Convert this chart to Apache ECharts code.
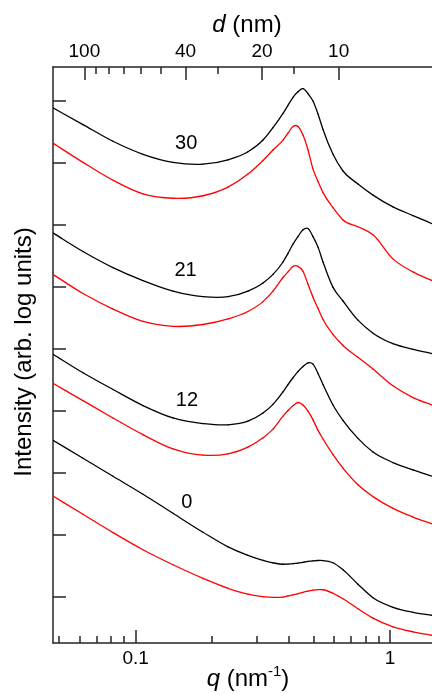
<!DOCTYPE html>
<html><head><meta charset="utf-8">
<script src="https://cdn.jsdelivr.net/npm/echarts@6/dist/echarts.min.js"></script>
<style>html,body{margin:0;padding:0;background:#fff}#c{width:432px;height:694px}</style>
</head><body><div id="c"></div>
<script>
// scattering vector q (nm^-1)
const q = [0.04729, 0.06205, 0.08142, 0.10684, 0.14019, 0.18395, 0.2307, 0.2764, 0.31671, 0.34673,
           0.37959, 0.3971, 0.41557, 0.4346, 0.45496, 0.4760, 0.49808, 0.5212, 0.54529, 0.59697,
           0.65355, 0.7483, 0.85754, 1.02754, 1.23156, 1.4627];
// log intensity (arb. log units); black and red curve of each sample
const I30black = [8.89, 8.62, 8.35, 8.14, 8.01, 7.98, 8.05, 8.18, 8.37, 8.57, 8.80, 8.93, 9.06, 9.15, 9.20, 9.12, 9.00, 8.79, 8.54, 8.14, 7.87, 7.66, 7.48, 7.29, 7.15, 7.02];
const I30red   = [8.32, 8.01, 7.72, 7.50, 7.43, 7.47, 7.61, 7.82, 8.04, 8.21, 8.37, 8.48, 8.59, 8.59, 8.45, 8.21, 7.90, 7.70, 7.52, 7.28, 7.08, 6.97, 6.84, 6.45, 6.24, 6.10];
const I21black = [6.87, 6.57, 6.31, 6.10, 5.93, 5.84, 5.84, 5.93, 6.06, 6.20, 6.40, 6.54, 6.69, 6.81, 6.92, 6.94, 6.81, 6.64, 6.40, 5.99, 5.77, 5.46, 5.25, 5.08, 4.99, 4.92];
const I21red   = [6.20, 5.89, 5.64, 5.44, 5.36, 5.39, 5.48, 5.60, 5.76, 5.93, 6.15, 6.24, 6.33, 6.33, 6.25, 6.04, 5.83, 5.65, 5.47, 5.23, 5.05, 4.86, 4.67, 4.40, 4.21, 4.09];
const I12black = [4.91, 4.61, 4.34, 4.08, 3.88, 3.79, 3.77, 3.83, 3.96, 4.10, 4.30, 4.42, 4.53, 4.63, 4.71, 4.77, 4.75, 4.60, 4.42, 4.09, 3.84, 3.55, 3.33, 3.16, 3.04, 2.94];
const I12red   = [4.44, 4.16, 3.88, 3.61, 3.38, 3.28, 3.30, 3.41, 3.56, 3.70, 3.91, 4.00, 4.08, 4.13, 4.09, 3.99, 3.85, 3.68, 3.54, 3.29, 3.07, 2.80, 2.61, 2.42, 2.28, 2.17];
const I0black  = [3.520, 3.229, 2.938, 2.647, 2.340, 2.034, 1.799, 1.662, 1.581, 1.541, 1.517, 1.520, 1.526, 1.536, 1.549, 1.562, 1.572, 1.578, 1.577, 1.541, 1.428, 1.194, 0.976, 0.822, 0.741, 0.693];
const I0red    = [2.620, 2.324, 2.029, 1.751, 1.509, 1.290, 1.129, 1.035, 0.995, 0.982, 0.987, 1.005, 1.022, 1.043, 1.064, 1.084, 1.098, 1.106, 1.105, 1.048, 0.959, 0.798, 0.647, 0.507, 0.426, 0.370];
// curve labels and where they sit (q, log intensity)
const curveLabels = ['30', '21', '12', '0'];
const labelQ = [0.158, 0.157, 0.159, 0.159];
const labelV = [8.32, 6.27, 4.17, 2.52];
// ticks
const qMajorTicks = [0.1, 1];
const qMinorTicks = [0.05, 0.06, 0.07, 0.08, 0.09, 0.2, 0.3, 0.4, 0.5, 0.6, 0.7, 0.8, 0.9];
const dMajorTicks = [100, 40, 20, 10];
const dMinorTicks = [90, 80, 70, 60, 50, 30, 15];
const yTicks = [1, 2, 3, 4, 5, 6, 7, 8, 9];
const qMin = 0.0473, qMax = 1.463;
const yMin = 0.245, yMax = 9.55;

const FONT = "'Liberation Sans', Arial, sans-serif";
const AX = '#262626';
const lg = Math.log10;
const lgMin = lg(qMin), lgMax = lg(qMax);
const dToLq = d => lg(2 * Math.PI / d);

function decoAxis(pos, vals, len, labels, fmt) {
  return {
    type: 'value', position: pos, min: lgMin, max: lgMax, gridIndex: 0,
    axisLine: { show: !!labels, onZero: false, lineStyle: { color: AX, width: 1.5 } },
    axisTick: { show: true, inside: true, length: len, customValues: vals, lineStyle: { color: AX, width: 1.5 } },
    axisLabel: labels ? { show: true, customValues: vals, formatter: fmt, fontFamily: FONT, fontSize: 19, color: '#000', margin: 6 } : { show: false },
    splitLine: { show: false }
  };
}

const chart = echarts.init(document.getElementById('c'), null, { renderer: 'canvas' });
const pairs = arr => q.map((x, i) => [x, arr[i]]);

// smooth curve: cubic Hermite segments between data points, positioned via the axes (api.coord)
function curve(arr, color) {
  const n = q.length;
  return {
    type: 'custom', data: pairs(arr), xAxisIndex: 0, yAxisIndex: 0, clip: true, silent: true, z: 3,
    encode: { x: 0, y: 1 },
    renderItem: function (params, api) {
      const i = params.dataIndex;
      if (i >= n - 1) return null;
      const P = j => api.coord([q[j], arr[j]]);
      const slope = j => {
        if (j === 0) { const a = P(0), b = P(1); return (b[1] - a[1]) / (b[0] - a[0]); }
        if (j === n - 1) { const a = P(n - 2), b = P(n - 1); return (b[1] - a[1]) / (b[0] - a[0]); }
        const a = P(j - 1), b = P(j), c = P(j + 1);
        const h0 = b[0] - a[0], h1 = c[0] - b[0];
        const s0 = (b[1] - a[1]) / h0, s1 = (c[1] - b[1]) / h1;
        return (s0 * h1 + s1 * h0) / (h0 + h1);
      };
      const p0 = P(i), p1 = P(i + 1);
      const dx = (p1[0] - p0[0]) / 3;
      const m0 = slope(i), m1 = slope(i + 1);
      return {
        type: 'bezierCurve',
        shape: { x1: p0[0], y1: p0[1], cpx1: p0[0] + dx, cpy1: p0[1] + m0 * dx,
                 cpx2: p1[0] - dx, cpy2: p1[1] - m1 * dx, x2: p1[0], y2: p1[1] },
        style: { stroke: color, lineWidth: 1.3, fill: null, lineCap: 'round' }
      };
    }
  };
}

chart.setOption({
  animation: false,
  backgroundColor: '#fff',
  grid: { left: 53, right: 0, top: 67, bottom: 51, containLabel: false },
  xAxis: [
    { type: 'log', min: qMin, max: qMax, position: 'bottom', show: true,
      axisLine: { show: false }, axisTick: { show: false }, axisLabel: { show: false }, splitLine: { show: false } },
    decoAxis('bottom', qMajorTicks.map(lg), 13, true, v => String(+Math.pow(10, v).toPrecision(3))),
    decoAxis('bottom', qMinorTicks.map(lg), 7, false),
    decoAxis('top', dMajorTicks.map(dToLq), 13, true, v => String(Math.round(2 * Math.PI / Math.pow(10, v)))),
    decoAxis('top', dMinorTicks.map(dToLq), 7, false)
  ],
  yAxis: [{
    type: 'value', min: yMin, max: yMax, position: 'left',
    axisLine: { show: true, onZero: false, lineStyle: { color: AX, width: 1.5 } },
    axisTick: { show: true, inside: true, length: 13, customValues: yTicks, lineStyle: { color: AX, width: 1.5 } },
    axisLabel: { show: false }, splitLine: { show: false }
  }],
  series: [
    curve(I30black, '#000'), curve(I30red, '#ff0000'),
    curve(I21black, '#000'), curve(I21red, '#ff0000'),
    curve(I12black, '#000'), curve(I12red, '#ff0000'),
    curve(I0black, '#000'), curve(I0red, '#ff0000'),
    {
      type: 'scatter', xAxisIndex: 0, yAxisIndex: 0, silent: true, z: 4,
      symbol: 'circle', symbolSize: 1, itemStyle: { color: 'rgba(0,0,0,0)', opacity: 1 },
      label: { show: true, position: 'inside', formatter: p => p.name, color: '#000', opacity: 1, textBorderWidth: 0, fontFamily: FONT, fontSize: 20 },
      data: curveLabels.map((t, i) => ({ name: t, value: [labelQ[i], labelV[i]] }))
    }
  ],
  graphic: [
    { type: 'text', x: 247, y: 25, style: { text: '{i|d} (nm)', fill: '#000', font: '24px ' + FONT, textAlign: 'center', textVerticalAlign: 'middle',
        rich: { i: { fontStyle: 'italic', fontSize: 24, fontFamily: FONT } } } },
    { type: 'text', x: 248, y: 679, style: { text: '{i|q} (nm{s|-1})', fill: '#000', font: '24px ' + FONT, textAlign: 'center', textVerticalAlign: 'middle',
        rich: { i: { fontStyle: 'italic', fontSize: 24, fontFamily: FONT }, s: { fontSize: 15, fontFamily: FONT, padding: [0, 0, 14, 0] } } } },
    { type: 'text', x: 24, y: 352, rotation: Math.PI / 2, style: { text: 'Intensity (arb. log units)', fill: '#000', font: '24px ' + FONT, textAlign: 'center', textVerticalAlign: 'middle' } }
  ]
});
</script>
</body></html>
